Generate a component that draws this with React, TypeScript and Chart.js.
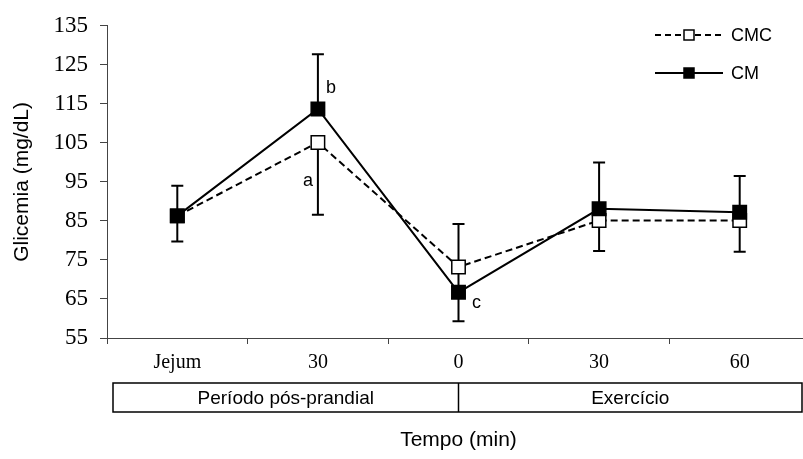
import React, { useEffect, useRef } from 'react';
import { Chart, registerables } from 'chart.js';

Chart.register(...registerables);

// ---- data ----
const categories = ['Jejum', '30', '0', '30', '60'];
const periods = ['Período pós-prandial', 'Exercício'];
const periodStartIndex = [0, 2];
const seriesNames = ['CMC', 'CM'];
const cmcValues = [86.3, 105.1, 73.2, 85.1, 85.1];
const cmValues = [86.3, 113.7, 66.7, 88.1, 87.2];
const cmcErrUp = [0, 0, 11.0, 0, 0];
const cmcErrDown = [6.6, 18.5, 6.5, 7.8, 8.0];
const cmErrUp = [7.7, 14.0, 0, 11.9, 9.3];
const cmErrDown = [0, 0, 7.4, 0, 0];
const yMin = 55;
const yMax = 135;
const yStep = 10;
const sigLetters = [
  { series: 'CM', index: 1, text: 'b', dx: 13, dy: -21 },
  { series: 'CMC', index: 1, text: 'a', dx: -10, dy: 39 },
  { series: 'CM', index: 2, text: 'c', dx: 18, dy: 11 },
];
const yTitle = 'Glicemia (mg/dL)';
const xTitle = 'Tempo (min)';

const SERIF = '"Liberation Serif", "Times New Roman", serif';
const SANS = '"Liberation Sans", Arial, sans-serif';
const VISIBLE_W = 803;
const CANVAS_W = 821;
const CANVAS_H = 459;

const errorBarsPlugin = {
  id: 'errorBars',
  beforeDatasetsDraw(chart: any) {
    const ctx = chart.ctx;
    const y = chart.scales.y;
    ctx.save();
    ctx.strokeStyle = '#000';
    ctx.lineWidth = 2;
    chart.data.datasets.forEach((ds: any, di: number) => {
      const meta = chart.getDatasetMeta(di);
      meta.data.forEach((pt: any, i: number) => {
        const v = ds.data[i];
        const up = ds.errUp[i];
        const down = ds.errDown[i];
        const x = pt.x;
        const py = y.getPixelForValue(v);
        const cap = 6;
        if (up > 0) {
          const ty = y.getPixelForValue(v + up);
          ctx.beginPath();
          ctx.moveTo(x, py);
          ctx.lineTo(x, ty);
          ctx.moveTo(x - cap, ty);
          ctx.lineTo(x + cap, ty);
          ctx.stroke();
        }
        if (down > 0) {
          const by = y.getPixelForValue(v - down);
          ctx.beginPath();
          ctx.moveTo(x, py);
          ctx.lineTo(x, by);
          ctx.moveTo(x - cap, by);
          ctx.lineTo(x + cap, by);
          ctx.stroke();
        }
      });
    });
    ctx.restore();
  },
};

const decorPlugin = {
  id: 'decor',
  afterDraw(chart: any) {
    const ctx = chart.ctx;
    const area = chart.chartArea;
    const xs = chart.scales.x;
    ctx.save();

    // period box
    const boxLeft = area.left + 6;
    const boxRight = VISIBLE_W - 1;
    const boxTop = area.bottom + 45;
    const boxBottom = boxTop + 29;
    ctx.strokeStyle = '#000';
    ctx.lineWidth = 1.5;
    ctx.strokeRect(boxLeft, boxTop, boxRight - boxLeft, boxBottom - boxTop);
    const edges = periodStartIndex.map((idx, k) => (k === 0 ? boxLeft : xs.getPixelForValue(idx)));
    edges.push(boxRight);
    ctx.beginPath();
    for (let k = 1; k < edges.length - 1; k++) {
      ctx.moveTo(edges[k], boxTop);
      ctx.lineTo(edges[k], boxBottom);
    }
    ctx.stroke();
    ctx.fillStyle = '#000';
    ctx.font = `19px ${SANS}`;
    ctx.textAlign = 'center';
    ctx.textBaseline = 'middle';
    periods.forEach((p, k) => {
      ctx.fillText(p, (edges[k] + edges[k + 1]) / 2, (boxTop + boxBottom) / 2 + 1);
    });

    // legend
    const legendItems = [
      { name: seriesNames[0], dash: [6, 4], fill: '#fff' },
      { name: seriesNames[1], dash: [], fill: '#000' },
    ];
    legendItems.forEach((it, k) => {
      const ly = 35 + k * 38;
      ctx.setLineDash(it.dash);
      ctx.lineWidth = 2;
      ctx.beginPath();
      ctx.moveTo(655, ly);
      ctx.lineTo(723, ly);
      ctx.stroke();
      ctx.setLineDash([]);
      ctx.fillStyle = it.fill;
      ctx.fillRect(684, ly - 5, 10, 10);
      ctx.lineWidth = 1.5;
      ctx.strokeRect(684, ly - 5, 10, 10);
      ctx.fillStyle = '#000';
      ctx.textAlign = 'left';
      ctx.textBaseline = 'middle';
      ctx.font = `18px ${SANS}`;
      ctx.fillText(it.name, 731, ly + 1);
    });

    // significance letters
    ctx.font = `18px ${SANS}`;
    ctx.textAlign = 'center';
    ctx.textBaseline = 'middle';
    sigLetters.forEach((s) => {
      const di = seriesNames.indexOf(s.series);
      const meta = chart.getDatasetMeta(di);
      const pt = meta.data[s.index];
      ctx.fillText(s.text, pt.x + s.dx, pt.y + s.dy);
    });

    ctx.restore();
  },
};

export default function App() {
  const ref = useRef<HTMLCanvasElement | null>(null);

  useEffect(() => {
    document.body.style.margin = '0';
    document.body.style.overflow = 'hidden';
    document.documentElement.style.overflow = 'hidden';
    const canvas = ref.current;
    if (!canvas) return;
    const chart = new Chart(canvas, {
      type: 'line',
      data: {
        labels: categories,
        datasets: [
          {
            label: seriesNames[0],
            data: cmcValues,
            errUp: cmcErrUp,
            errDown: cmcErrDown,
            borderColor: '#000',
            borderWidth: 2,
            borderDash: [7, 4],
            pointStyle: 'rect',
            pointRadius: 9.5,
            pointBorderWidth: 1.5,
            pointBackgroundColor: '#fff',
            pointBorderColor: '#000',
            tension: 0,
            order: 1,
          } as any,
          {
            label: seriesNames[1],
            data: cmValues,
            errUp: cmErrUp,
            errDown: cmErrDown,
            borderColor: '#000',
            borderWidth: 2,
            pointStyle: 'rect',
            pointRadius: 9.5,
            pointBorderWidth: 1.5,
            pointBackgroundColor: '#000',
            pointBorderColor: '#000',
            tension: 0,
            order: 0,
          } as any,
        ],
      },
      options: {
        responsive: false,
        animation: false,
        devicePixelRatio: 1,
        layout: { padding: { top: 22, left: 0, right: 0, bottom: 0 } },
        plugins: {
          legend: { display: false },
          tooltip: { enabled: false },
        },
        scales: {
          x: {
            type: 'category',
            offset: true,
            grid: {
              offset: true,
              drawOnChartArea: false,
              drawTicks: true,
              tickLength: 6,
              color: '#444',
              lineWidth: 1,
            },
            border: { display: true, color: '#444', width: 1 },
            ticks: {
              color: '#000',
              font: { family: SERIF, size: 20 },
              padding: 7,
              maxRotation: 0,
              autoSkip: false,
            },
            title: {
              display: true,
              text: xTitle,
              color: '#000',
              font: { family: SANS, size: 21 },
              padding: { top: 0, bottom: 6.5 },
            },
            afterFit(scale: any) {
              scale.height = CANVAS_H - 338;
            },
          },
          y: {
            min: yMin,
            max: yMax,
            grid: {
              drawOnChartArea: false,
              drawTicks: true,
              tickLength: 7,
              color: '#444',
              lineWidth: 1,
            },
            border: { display: true, color: '#444', width: 1 },
            ticks: {
              stepSize: yStep,
              color: '#000',
              font: { family: SERIF, size: 23 },
              padding: 12,
            },
            title: {
              display: true,
              text: yTitle,
              color: '#000',
              font: { family: SANS, size: 21 },
              padding: { top: 9.5, bottom: 0 },
            },
            afterFit(scale: any) {
              scale.width = 107;
            },
          },
        },
      },
      plugins: [errorBarsPlugin, decorPlugin],
    } as any);
    return () => chart.destroy();
  }, []);

  return (
    <div style={{ position: 'fixed', left: 0, top: 0, width: VISIBLE_W, height: CANVAS_H, overflow: 'hidden', background: '#fff' }}>
      <canvas ref={ref} width={CANVAS_W} height={CANVAS_H} style={{ display: 'block', width: CANVAS_W, height: CANVAS_H }} />
    </div>
  );
}
